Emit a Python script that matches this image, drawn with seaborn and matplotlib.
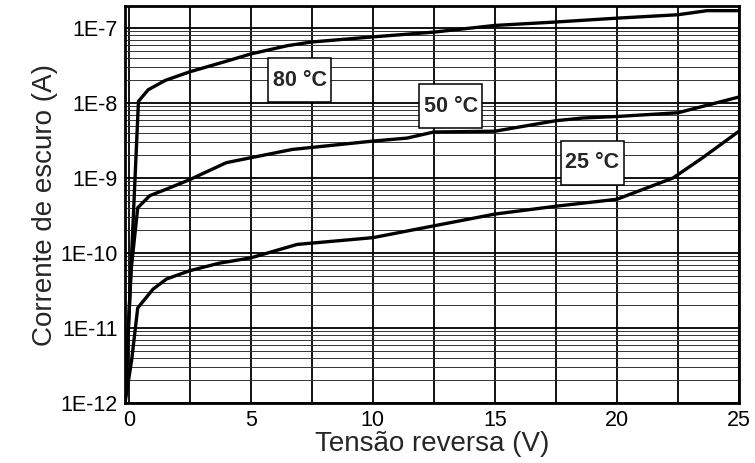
import numpy as np
import pandas as pd
import matplotlib
matplotlib.use("Agg")
import matplotlib.pyplot as plt
import seaborn as sns
from matplotlib.patches import Rectangle
from matplotlib.transforms import IdentityTransform
from matplotlib.ticker import FixedLocator, FuncFormatter, LogLocator, NullFormatter

# dark current vs reverse voltage
v_80 = [-0.15, 0.4, 0.8, 1.5, 2.5, 4.0, 5.0, 6.5, 7.5, 10.0, 12.5, 15.0, 17.5, 20.0, 22.5, 23.7, 25.0]
i_80 = [1e-12, 1.05e-8, 1.5e-8, 2.0e-8, 2.6e-8, 3.6e-8, 4.5e-8, 5.8e-8, 6.5e-8, 7.6e-8,
        8.8e-8, 1.08e-7, 1.2e-7, 1.35e-7, 1.5e-7, 1.7e-7, 1.7e-7]

v_50 = [-0.15, 0.1, 0.37, 0.86, 1.5, 2.5, 4.0, 6.7, 10.0, 11.4, 12.5, 15.0, 17.5, 18.6, 20.0, 22.5, 25.0]
i_50 = [1e-12, 6e-11, 4e-10, 5.8e-10, 7e-10, 9.5e-10, 1.6e-9, 2.4e-9, 3.1e-9, 3.4e-9,
        4.1e-9, 4.2e-9, 5.8e-9, 6.3e-9, 6.6e-9, 7.4e-9, 1.2e-8]

v_25 = [-0.15, 0.12, 0.37, 1.0, 1.55, 2.5, 3.7, 5.0, 6.9, 10.0, 12.5, 15.0, 17.5, 20.0, 22.3, 23.5, 25.0]
i_25 = [1e-12, 3.7e-12, 1.85e-11, 3.3e-11, 4.5e-11, 5.8e-11, 7.3e-11, 8.6e-11, 1.3e-10, 1.6e-10,
        2.3e-10, 3.3e-10, 4.2e-10, 5.2e-10, 1.0e-9, 1.85e-9, 4.2e-9]

series_labels = ["80 °C", "50 °C", "25 °C"]
label_x = [7.0, 13.2, 19.0]
label_y = [2.0e-8, 9.1e-9, 1.6e-9]

y_ticks = [1e-12, 1e-11, 1e-10, 1e-9, 1e-8, 1e-7]
x_ticks = [0, 5, 10, 15, 20, 25]

df = pd.concat([
    pd.DataFrame({"V": v_80, "I": i_80, "T": "80"}),
    pd.DataFrame({"V": v_50, "I": i_50, "T": "50"}),
    pd.DataFrame({"V": v_25, "I": i_25, "T": "25"}),
], ignore_index=True)

sns.set_style("white")
plt.rcParams["font.family"] = ["Liberation Sans", "DejaVu Sans"]

fig = plt.figure(figsize=(7.55, 4.63), dpi=100)
ax = fig.add_axes([0.1656, 0.1296, 0.8132, 0.8574])

sns.lineplot(data=df, x="V", y="I", hue="T", palette=["black"] * 3,
             sort=False, estimator=None, linewidth=2.4, legend=False, ax=ax, zorder=3)

ax.set_yscale("log")
ax.set_xlim(-0.15, 25)
ax.set_ylim(1e-12, 1.96e-7)

# grid: vertical every 2.5 V, horizontal at decades and log minors
ax.xaxis.set_major_locator(FixedLocator(x_ticks))
ax.xaxis.set_minor_locator(FixedLocator(np.arange(2.5, 25, 5)))
ax.yaxis.set_major_locator(FixedLocator(y_ticks))
ax.yaxis.set_minor_locator(LogLocator(base=10, subs=np.arange(2, 10), numticks=20))
ax.yaxis.set_minor_formatter(NullFormatter())
ax.yaxis.set_major_formatter(FuncFormatter(lambda v, p: "1E%d" % round(np.log10(v))))

ax.grid(True, which="major", axis="both", color="black", linewidth=1.3)
ax.grid(True, which="minor", axis="x", color="black", linewidth=1.3)
ax.grid(True, which="minor", axis="y", color="#333333", linewidth=0.7)
ax.set_axisbelow(True)

ax.tick_params(which="both", length=0, labelsize=15.5, colors="black")
ax.tick_params(axis="x", pad=5)
ax.tick_params(axis="y", pad=5)
for s in ax.spines.values():
    s.set_visible(True)
    s.set_color("black")
    s.set_linewidth(2.0)

ax.set_xlabel("Tensão reversa (V)", fontsize=20, labelpad=0)
ax.set_ylabel("Corrente de escuro (A)", fontsize=20, labelpad=2)

# boxed temperature labels (box size in pixels, centred on the data point)
box_w, box_h = 63, 44
for txt, lx, ly in zip(series_labels, label_x, label_y):
    cx, cy = ax.transData.transform((lx, ly))
    ax.add_patch(Rectangle((cx - box_w / 2, cy - box_h / 2), box_w, box_h,
                           transform=IdentityTransform(), clip_on=False,
                           facecolor="white", edgecolor="black", linewidth=1.1, zorder=4))
    ax.text(lx, ly, txt, ha="center", va="center", fontsize=15.5, fontweight="bold", zorder=6)

fig.savefig("out.png", dpi=100)
